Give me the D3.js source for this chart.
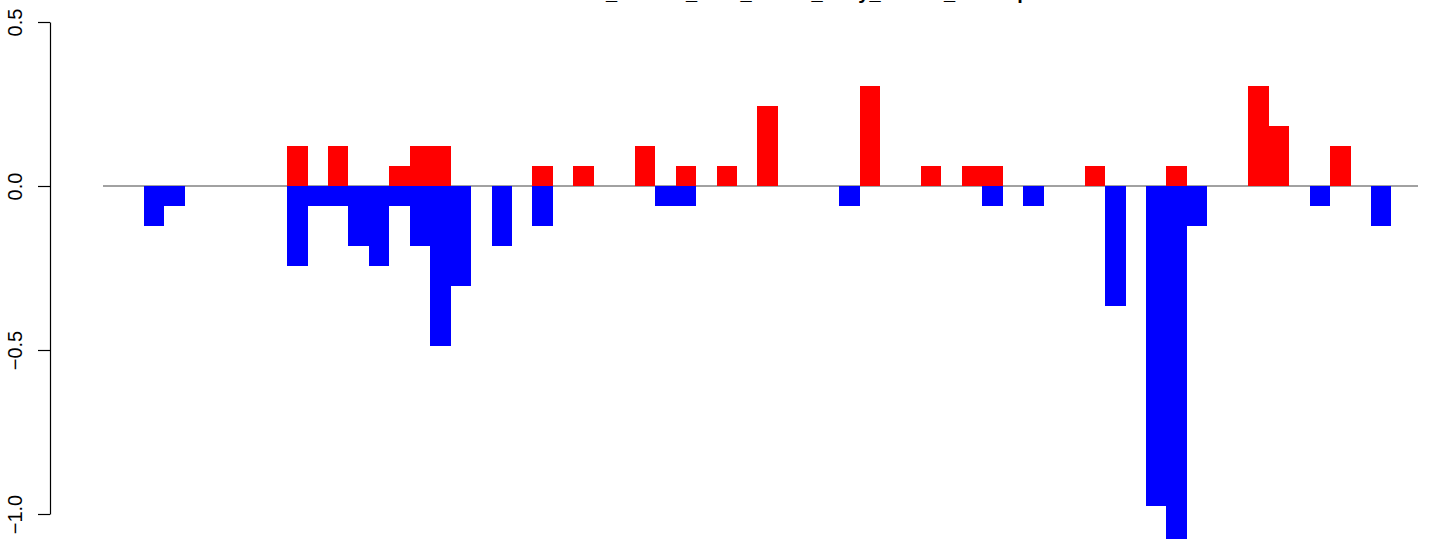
<!DOCTYPE html>
<html>
<head>
<meta charset="utf-8">
<script src="https://cdn.jsdelivr.net/npm/d3@7"></script>
<style>
  html, body { margin: 0; padding: 0; background: #fff; }
  svg { display: block; font-family: "Liberation Sans", Arial, sans-serif; }
</style>
</head>
<body>
<svg id="chart"></svg>
<script>
// one slot per bar, 61 slots
const slots = d3.range(61);
const posValues = [
  0, 0, 0, 0, 0, 0, 0, 0.122, 0, 0.122,
  0, 0, 0.061, 0.122, 0.122, 0, 0, 0, 0, 0.061,
  0, 0.061, 0, 0, 0.122, 0, 0.061, 0, 0.061, 0,
  0.244, 0, 0, 0, 0, 0.305, 0, 0, 0.061, 0,
  0.061, 0.061, 0, 0, 0, 0, 0.061, 0, 0, 0,
  0.061, 0, 0, 0, 0.305, 0.183, 0, 0, 0.122, 0,
  0
];
const negValues = [
  -0.122, -0.061, 0, 0, 0, 0, 0, -0.244, -0.061, -0.061,
  -0.183, -0.244, -0.061, -0.183, -0.488, -0.305, 0, -0.183, 0, -0.122,
  0, 0, 0, 0, 0, -0.061, -0.061, 0, 0, 0,
  0, 0, 0, 0, -0.061, 0, 0, 0, 0, 0,
  0, -0.061, 0, -0.061, 0, 0, 0, -0.366, 0, -0.976,
  -1.098, -0.122, 0, 0, 0, 0, 0, -0.061, 0, 0,
  -0.122
];
const yTicks = [-1.0, -0.5, 0.0, 0.5];
const chartTitle = "ControlRats_Sess12_Post_Shock_early_Freeze_Overlap";

function drawBars(svgSelector, width, height) {
    const svg = d3.select(svgSelector)
        .attr("width", width)
        .attr("height", height);

    // plot region (R style, bars fill the slots with no gap)
    const plotLeft = 103, plotRight = 1418;

    const x = d3.scaleLinear()
        .domain([-2, 62.3])
        .range([plotLeft, plotRight]);

    const y = d3.scaleLinear()
        .domain([-1, 0.5])
        .range([514, 22]);

    // title, mostly off the top edge like the original
    svg.append("text")
        .attr("x", (plotLeft + plotRight) / 2)
        .attr("y", -1)
        .attr("text-anchor", "middle")
        .attr("font-size", "20px")
        .attr("font-weight", "bold")
        .text(chartTitle);

    // zero line
    svg.append("line")
        .attr("x1", plotLeft)
        .attr("x2", plotRight)
        .attr("y1", y(0))
        .attr("y2", y(0))
        .attr("stroke", "#444")
        .attr("stroke-width", 1);

    // positive bars
    svg.append("g").selectAll("rect")
        .data(slots.filter(i => posValues[i] > 0))
        .enter().append("rect")
        .attr("x", i => x(i))
        .attr("width", i => x(i + 1) - x(i))
        .attr("y", i => y(posValues[i]))
        .attr("height", i => y(0) - y(posValues[i]))
        .attr("fill", "#ff0000")
        .attr("shape-rendering", "crispEdges");

    // negative bars
    svg.append("g").selectAll("rect")
        .data(slots.filter(i => negValues[i] < 0))
        .enter().append("rect")
        .attr("x", i => x(i))
        .attr("width", i => x(i + 1) - x(i))
        .attr("y", y(0))
        .attr("height", i => y(negValues[i]) - y(0))
        .attr("fill", "#0000ff")
        .attr("shape-rendering", "crispEdges");

    // y axis
    const axis = svg.append("g")
        .attr("transform", "translate(50,0)")
        .call(d3.axisLeft(y)
            .tickValues(yTicks)
            .tickSize(12)
            .tickSizeOuter(0)
            .tickFormat(d3.format(".1f")));

    axis.select(".domain").attr("stroke", "#000").attr("stroke-width", 1.2);
    axis.selectAll(".tick line").attr("stroke", "#000").attr("stroke-width", 1.2);
    axis.selectAll(".tick text")
        .attr("x", 0)
        .attr("dy", 0)
        .attr("transform", "translate(-28,0) rotate(-90)")
        .attr("fill", "#000")
        .style("text-anchor", "middle")
        .style("font-size", "20px")
        .style("font-family", "Liberation Sans, Arial, sans-serif");
}

drawBars("#chart", 1441, 539);
</script>
</body>
</html>
